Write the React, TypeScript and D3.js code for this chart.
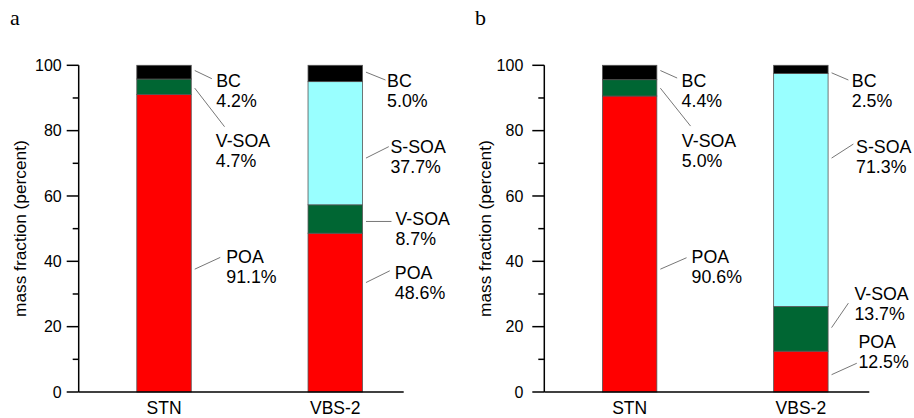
import React, { useEffect, useRef } from "react";
import * as d3 from "d3";

// categories and components
const categories = ["STN", "VBS-2"];
const components = ["POA", "V-SOA", "S-SOA", "BC"];
const colors: Record<string, string> = {
  POA: "#ff0000",
  "V-SOA": "#006633",
  "S-SOA": "#99ffff",
  BC: "#000000",
};

// mass fractions (percent), order: POA, V-SOA, S-SOA, BC
const panelA = [
  [91.1, 4.7, 0, 4.2],
  [48.6, 8.7, 37.7, 5.0],
];
const panelB = [
  [90.6, 5.0, 0, 4.4],
  [12.5, 13.7, 71.3, 2.5],
];

const yTicks = [0, 20, 40, 60, 80, 100];
const yMinor = [10, 30, 50, 70, 90];

// annotation layout: [category index, component, start value, end dx, end value, text dx, text value]
type Note = [number, string, number, number, number, number, number];
const notesA: Note[] = [
  [0, "BC", 98.4, 20.6, 95.9, 25, 93.3],
  [0, "V-SOA", 93.0, 33.3, 81.2, 24.5, 75.1],
  [0, "POA", 37.6, 29, 41.2, 35, 39.4],
  [1, "BC", 97.9, 23, 95.5, 24.6, 93.3],
  [1, "S-SOA", 71.6, 26.3, 75.1, 28, 73.1],
  [1, "V-SOA", 52.2, 29, 52.2, 33, 51.1],
  [1, "POA", 33.5, 27.3, 37.1, 32.3, 34.6],
];
const notesB: Note[] = [
  [0, "BC", 98.4, 20.3, 96.1, 24.7, 93.3],
  [0, "V-SOA", 93.0, 33.7, 81.4, 25, 75.1],
  [0, "POA", 37.6, 29.7, 41.1, 34.7, 39.5],
  [1, "BC", 97.7, 20.3, 95.5, 23.7, 93.4],
  [1, "S-SOA", 71.6, 25.3, 75.9, 28, 73.3],
  [1, "V-SOA", 19.7, 20.3, 27.2, 26.3, 28.2],
  [1, "POA", 5.3, 28.7, 8.8, 30.3, 13.4],
];

const panels = [
  { letter: "a", x0: 78.7, data: panelA, notes: notesA, tickPad: 5, letterX: 10 },
  { letter: "b", x0: 544.3, data: panelB, notes: notesB, tickPad: 9, letterX: 475 },
];

const FONT = "'Liberation Sans', Arial, sans-serif";

const App = () => {
  const svgRef = useRef<SVGSVGElement>(null);

  useEffect(() => {
    const svg = d3.select(svgRef.current);
    svg.selectAll("*").remove();

    const y = d3.scaleLinear().domain([0, 100]).range([392, 65.3]);

    panels.forEach((p) => {
      const g = svg.append("g");
      const x = d3
        .scaleBand()
        .domain(categories)
        .range([p.x0, p.x0 + 325])
        .paddingInner(0.682)
        .paddingOuter(0.29)
        .align(0.585);

      // stacked segments
      p.data.forEach((vals, ci) => {
        const stacked = d3.stack<number[]>().keys(components.map((_, i) => String(i)))
          .value((d, k) => d[+k])([vals]);
        stacked.forEach((s, si) => {
          const v = vals[si];
          if (v <= 0) return;
          const [lo, hi] = s[0];
          g.append("rect")
            .attr("x", x(categories[ci])!)
            .attr("width", x.bandwidth())
            .attr("y", y(hi))
            .attr("height", y(lo) - y(hi))
            .attr("fill", colors[components[si]])
            .attr("stroke", "#555")
            .attr("stroke-width", 0.8);
        });
      });

      // y axis
      const yAxis = g.append("g").attr("transform", `translate(${p.x0},0)`);
      yAxis.append("line").attr("y1", y(0)).attr("y2", y(100)).attr("stroke", "#000").attr("stroke-width", 1.5);
      yTicks.forEach((t) => {
        yAxis.append("line").attr("x1", -12).attr("x2", 0).attr("y1", y(t)).attr("y2", y(t))
          .attr("stroke", "#000").attr("stroke-width", 1.5);
        yAxis.append("text").attr("x", -12 - p.tickPad).attr("y", y(t)).attr("dy", "0.35em")
          .attr("text-anchor", "end").attr("font-family", FONT).attr("font-size", 16).text(t);
      });
      yMinor.forEach((t) => {
        yAxis.append("line").attr("x1", -6).attr("x2", 0).attr("y1", y(t)).attr("y2", y(t))
          .attr("stroke", "#000").attr("stroke-width", 1.5);
      });
      yAxis.append("text")
        .attr("transform", `translate(-53,${(y(0) + y(100)) / 2}) rotate(-90)`)
        .attr("text-anchor", "middle").attr("font-family", FONT).attr("font-size", 17.3)
        .text("mass fraction (percent)");

      // x axis
      g.append("line").attr("x1", p.x0).attr("x2", p.x0 + 325).attr("y1", y(0)).attr("y2", y(0))
        .attr("stroke", "#000").attr("stroke-width", 1.5);
      categories.forEach((c) => {
        g.append("text").attr("x", x(c)! + x.bandwidth() / 2).attr("y", 414)
          .attr("text-anchor", "middle").attr("font-family", FONT).attr("font-size", 17.5).text(c);
      });

      // annotations
      p.notes.forEach(([ci, comp, v0, dx1, v1, tdx, tv]) => {
        const edge = x(categories[ci])! + x.bandwidth();
        const startDx = 3.5;
        g.append("line")
          .attr("x1", edge + startDx).attr("y1", y(v0))
          .attr("x2", edge + dx1).attr("y2", y(v1))
          .attr("stroke", "#777").attr("stroke-width", 1);
        const value = p.data[ci][components.indexOf(comp)];
        const t = g.append("text").attr("font-family", FONT).attr("font-size", 17.8);
        t.append("tspan").attr("x", edge + tdx).attr("y", y(tv)).text(comp);
        t.append("tspan").attr("x", edge + tdx).attr("dy", 20).text(`${value.toFixed(1)}%`);
      });

      // panel letter
      svg.append("text").attr("x", p.letterX).attr("y", 25)
        .attr("font-family", "'Liberation Serif', 'Times New Roman', serif").attr("font-size", 22)
        .text(p.letter);
    });
  }, []);

  return (
    <svg
      ref={svgRef}
      width={914}
      height={418}
      style={{ position: "absolute", left: 0, top: 0, background: "#fff" }}
    />
  );
};

export default App;
